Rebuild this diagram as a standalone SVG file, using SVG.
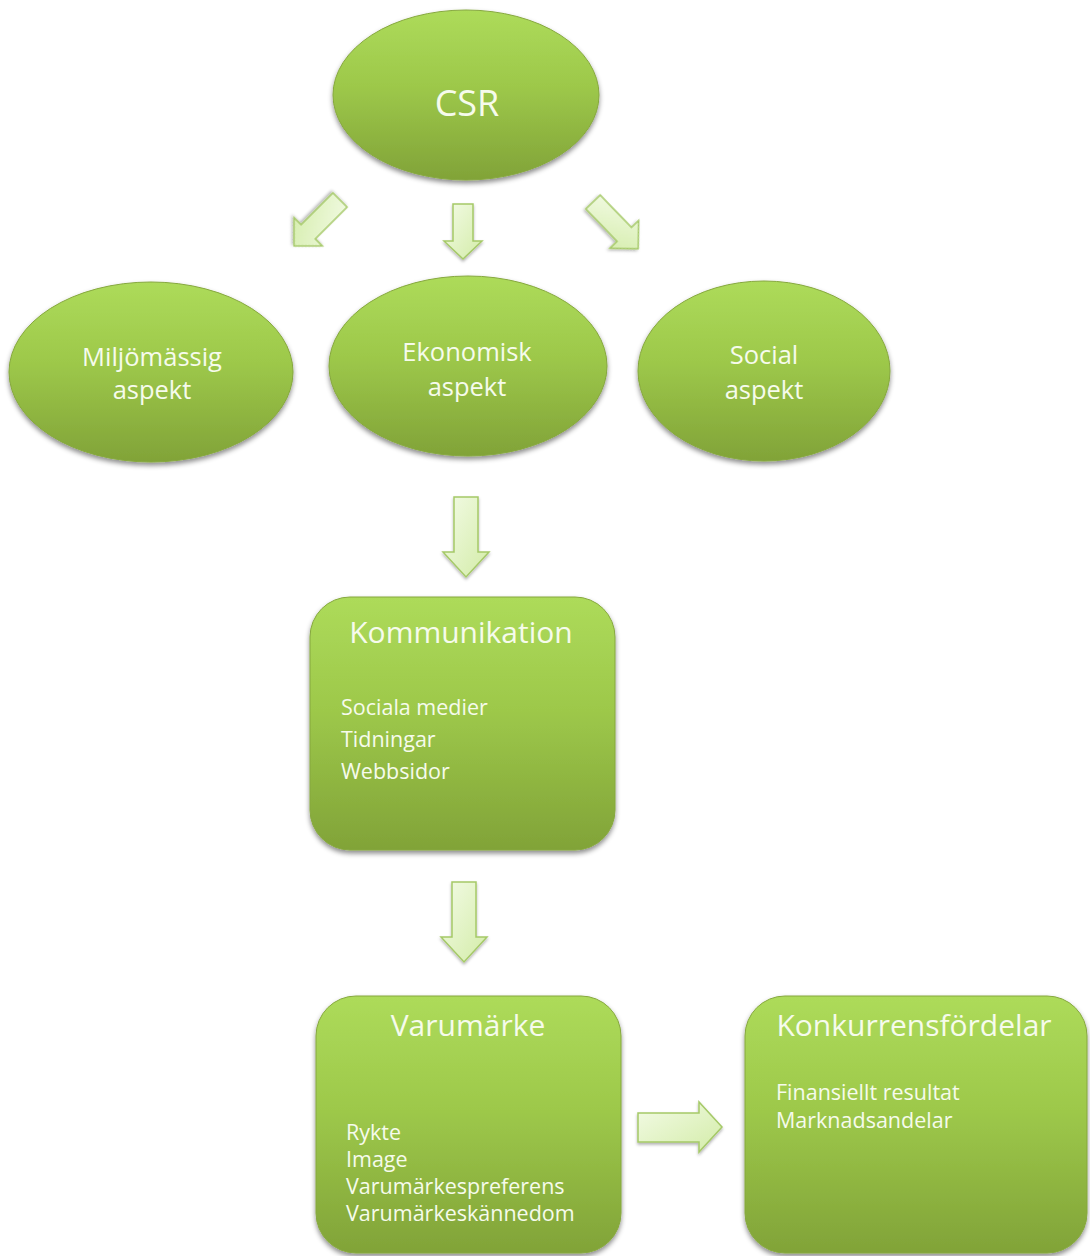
<svg xmlns="http://www.w3.org/2000/svg" width="1090" height="1256" viewBox="0 0 1090 1256">
<defs>
  <linearGradient id="gFill" x1="0" y1="0" x2="0" y2="1">
    <stop offset="0" stop-color="#addb5a"/>
    <stop offset="0.45" stop-color="#9dc84a"/>
    <stop offset="1" stop-color="#81a338"/>
  </linearGradient>
  <linearGradient id="gArrow" x1="0" y1="0" x2="1" y2="1">
    <stop offset="0" stop-color="#f3fbe6"/>
    <stop offset="1" stop-color="#d3eca8"/>
  </linearGradient>
  <filter id="shadow" x="-20%" y="-20%" width="140%" height="145%">
    <feDropShadow dx="0" dy="3" stdDeviation="2.5" flood-color="#000" flood-opacity="0.45"/>
  </filter>
  <filter id="ashadow" x="-30%" y="-30%" width="160%" height="160%">
    <feDropShadow dx="0" dy="2" stdDeviation="1.5" flood-color="#000" flood-opacity="0.3"/>
  </filter>
  <path id="arrowShape" d="M0,-10 H45 V-20 L65,0 L45,20 V10 H0 Z"/>
</defs>
<style>
  .shape { fill: url(#gFill); stroke: #86a83e; stroke-width: 1; filter: url(#shadow); }
  .arrow { fill: url(#gArrow); stroke: #a5c967; stroke-width: 1.5; stroke-linejoin: miter; filter: url(#ashadow); }
  text { font-family: "Open Sans", "Liberation Sans", sans-serif; fill: #f6fbec; }
  .title { font-size: 30px; text-anchor: middle; }
  .oval { font-size: 25.5px; text-anchor: middle; }
  .item { font-size: 21.5px; }
</style>
<rect width="1090" height="1256" fill="#ffffff"/>

<g id="connectors">
  <use href="#arrowShape" class="arrow" transform="translate(340,200) rotate(135)"/>
  <path class="arrow" d="M453,204 H473 V241 H482 L463,259 L444,241 H453 Z"/>
  <use href="#arrowShape" class="arrow" transform="translate(593,202) rotate(46)"/>
  <path class="arrow" d="M454,497 H478 V552 H489 L466,577 L443,552 H454 Z"/>
  <path class="arrow" d="M452,882 H476 V937 H487 L464,962 L441,937 H452 Z"/>
  <path class="arrow" d="M638,1113 H699 V1102 L722,1127 L699,1152 V1142 H638 Z"/>
</g>

<g id="csr">
  <ellipse class="shape" cx="466" cy="95" rx="133" ry="85"/>
  <text x="467" y="116" style="font-size:36px" text-anchor="middle">CSR</text>
</g>

<g id="miljo">
  <ellipse class="shape" cx="151" cy="372" rx="142" ry="90"/>
  <text class="oval" x="152" y="366">Miljömässig</text>
  <text class="oval" x="152" y="399">aspekt</text>
</g>

<g id="ekonomisk">
  <ellipse class="shape" cx="468" cy="366" rx="139" ry="90"/>
  <text class="oval" x="467" y="361">Ekonomisk</text>
  <text class="oval" x="467" y="396">aspekt</text>
</g>

<g id="social">
  <ellipse class="shape" cx="764" cy="371" rx="126" ry="90"/>
  <text class="oval" x="764" y="364">Social</text>
  <text class="oval" x="764" y="399">aspekt</text>
</g>

<g id="kommunikation">
  <rect class="shape" x="310" y="597" width="305" height="253" rx="40" ry="40"/>
  <text class="title" x="461" y="643">Kommunikation</text>
  <text class="item" x="341" y="715">Sociala medier</text>
  <text class="item" x="341" y="747">Tidningar</text>
  <text class="item" x="341" y="779">Webbsidor</text>
</g>

<g id="varumarke">
  <rect class="shape" x="316" y="996" width="305" height="257" rx="40" ry="40"/>
  <text class="title" x="468" y="1036">Varumärke</text>
  <text class="item" x="346" y="1140">Rykte</text>
  <text class="item" x="346" y="1167">Image</text>
  <text class="item" x="346" y="1194">Varumärkespreferens</text>
  <text class="item" x="346" y="1221">Varumärkeskännedom</text>
</g>

<g id="konkurrens">
  <rect class="shape" x="745" y="996" width="342" height="257" rx="40" ry="40"/>
  <text class="title" x="914" y="1036">Konkurrensfördelar</text>
  <text class="item" x="776" y="1100">Finansiellt resultat</text>
  <text class="item" x="776" y="1128">Marknadsandelar</text>
</g>
</svg>
